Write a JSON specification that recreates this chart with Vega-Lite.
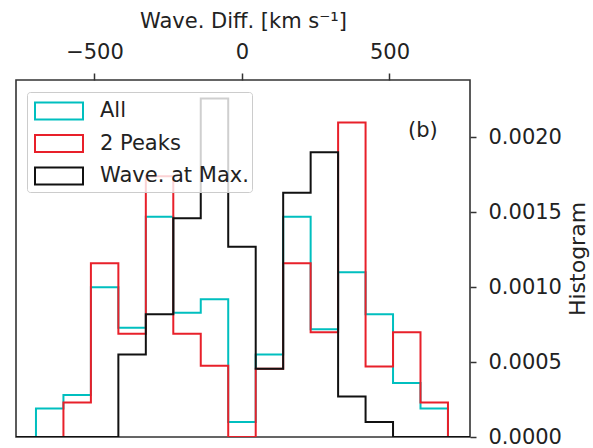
{
  "$schema": "https://vega.github.io/schema/vega-lite/v6.json",
  "width": 454,
  "height": 357,
  "autosize": {"type": "none"},
  "padding": {"left": 16, "top": 80, "right": 123, "bottom": 11},
  "config": {
    "view": {"stroke": "#333333", "strokeWidth": 1.6},
    "font": "DejaVu Sans"
  },
  "datasets": {
    "hist": [
      {"series": "All", "x0": -791.4, "x1": -698.3, "density": 0},
      {"series": "All", "x0": -698.3, "x1": -605.2, "density": 0.00019},
      {"series": "All", "x0": -605.2, "x1": -512.1, "density": 0.00028},
      {"series": "All", "x0": -512.1, "x1": -419.0, "density": 0.00100},
      {"series": "All", "x0": -419.0, "x1": -325.9, "density": 0.00073},
      {"series": "All", "x0": -325.9, "x1": -232.8, "density": 0.00147},
      {"series": "All", "x0": -232.8, "x1": -139.7, "density": 0.00083},
      {"series": "All", "x0": -139.7, "x1": -46.6, "density": 0.00092},
      {"series": "All", "x0": -46.6, "x1": 46.6, "density": 0.00010},
      {"series": "All", "x0": 46.6, "x1": 139.7, "density": 0.00055},
      {"series": "All", "x0": 139.7, "x1": 232.8, "density": 0.00147},
      {"series": "All", "x0": 232.8, "x1": 325.9, "density": 0.00072},
      {"series": "All", "x0": 325.9, "x1": 419.0, "density": 0.00110},
      {"series": "All", "x0": 419.0, "x1": 512.1, "density": 0.00082},
      {"series": "All", "x0": 512.1, "x1": 605.2, "density": 0.00036},
      {"series": "All", "x0": 605.2, "x1": 698.3, "density": 0.00019},
      {"series": "All", "x0": 698.3, "x1": 791.4, "density": 0},
      {"series": "2 Peaks", "x0": -791.4, "x1": -698.3, "density": 0},
      {"series": "2 Peaks", "x0": -698.3, "x1": -605.2, "density": 0},
      {"series": "2 Peaks", "x0": -605.2, "x1": -512.1, "density": 0.00023},
      {"series": "2 Peaks", "x0": -512.1, "x1": -419.0, "density": 0.00116},
      {"series": "2 Peaks", "x0": -419.0, "x1": -325.9, "density": 0.00069},
      {"series": "2 Peaks", "x0": -325.9, "x1": -232.8, "density": 0.00174},
      {"series": "2 Peaks", "x0": -232.8, "x1": -139.7, "density": 0.00069},
      {"series": "2 Peaks", "x0": -139.7, "x1": -46.6, "density": 0.000475},
      {"series": "2 Peaks", "x0": -46.6, "x1": 46.6, "density": 0},
      {"series": "2 Peaks", "x0": 46.6, "x1": 139.7, "density": 0.000455},
      {"series": "2 Peaks", "x0": 139.7, "x1": 232.8, "density": 0.00116},
      {"series": "2 Peaks", "x0": 232.8, "x1": 325.9, "density": 0.00070},
      {"series": "2 Peaks", "x0": 325.9, "x1": 419.0, "density": 0.00210},
      {"series": "2 Peaks", "x0": 419.0, "x1": 512.1, "density": 0.00047},
      {"series": "2 Peaks", "x0": 512.1, "x1": 605.2, "density": 0.00070},
      {"series": "2 Peaks", "x0": 605.2, "x1": 698.3, "density": 0.00023},
      {"series": "2 Peaks", "x0": 698.3, "x1": 791.4, "density": 0},
      {"series": "Wave. at Max.", "x0": -791.4, "x1": -698.3, "density": 0},
      {"series": "Wave. at Max.", "x0": -698.3, "x1": -605.2, "density": 0},
      {"series": "Wave. at Max.", "x0": -605.2, "x1": -512.1, "density": 0},
      {"series": "Wave. at Max.", "x0": -512.1, "x1": -419.0, "density": 0},
      {"series": "Wave. at Max.", "x0": -419.0, "x1": -325.9, "density": 0.00055},
      {"series": "Wave. at Max.", "x0": -325.9, "x1": -232.8, "density": 0.00082},
      {"series": "Wave. at Max.", "x0": -232.8, "x1": -139.7, "density": 0.00146},
      {"series": "Wave. at Max.", "x0": -139.7, "x1": -46.6, "density": 0.00226},
      {"series": "Wave. at Max.", "x0": -46.6, "x1": 46.6, "density": 0.00127},
      {"series": "Wave. at Max.", "x0": 46.6, "x1": 139.7, "density": 0.000455},
      {"series": "Wave. at Max.", "x0": 139.7, "x1": 232.8, "density": 0.00163},
      {"series": "Wave. at Max.", "x0": 232.8, "x1": 325.9, "density": 0.00190},
      {"series": "Wave. at Max.", "x0": 325.9, "x1": 419.0, "density": 0.00027},
      {"series": "Wave. at Max.", "x0": 419.0, "x1": 512.1, "density": 0.00010},
      {"series": "Wave. at Max.", "x0": 512.1, "x1": 605.2, "density": 0},
      {"series": "Wave. at Max.", "x0": 605.2, "x1": 698.3, "density": 0},
      {"series": "Wave. at Max.", "x0": 698.3, "x1": 791.4, "density": 0}
    ],
    "ann": [{"x": 613, "y": 0.00204, "label": "(b)"}]
  },
  "layer": [
    {
      "data": {"name": "hist"},
      "transform": [{"fold": ["x0", "x1"], "as": ["edge", "x"]}],
      "mark": {"type": "line", "strokeWidth": 2, "clip": true},
      "encoding": {
        "x": {
          "field": "x",
          "type": "quantitative",
          "scale": {"domain": [-766, 773], "nice": false, "zero": false},
          "axis": {
            "orient": "top",
            "values": [-500, 0, 500],
            "title": "Wave. Diff. [km s⁻¹]",
            "titleFontSize": 21,
            "titleFontWeight": "normal",
            "titleColor": "#222222",
            "titlePadding": 10,
            "labelFontSize": 21,
            "labelColor": "#222222",
            "labelPadding": 11,
            "labelFlush": false,
            "tickSize": 7,
            "tickWidth": 1.5,
            "tickColor": "#333333",
            "domain": false,
            "grid": false
          }
        },
        "y": {
          "field": "density",
          "type": "quantitative",
          "scale": {"domain": [0, 0.002383], "nice": false},
          "axis": {
            "orient": "right",
            "values": [0, 0.0005, 0.001, 0.0015, 0.002],
            "format": ".4f",
            "title": "Histogram",
            "titleAngle": 270,
            "titleBaseline": "top",
            "titleFontSize": 22,
            "titleFontWeight": "normal",
            "titleColor": "#222222",
            "titlePadding": 6,
            "labelFontSize": 21,
            "labelColor": "#222222",
            "labelPadding": 12,
            "labelFlush": false,
            "tickSize": 6,
            "tickWidth": 1.5,
            "tickColor": "#333333",
            "domain": false,
            "grid": false
          }
        },
        "color": {
          "field": "series",
          "type": "nominal",
          "scale": {
            "domain": ["All", "2 Peaks", "Wave. at Max."],
            "range": ["#00bfbf", "#e8202a", "#111111"]
          },
          "legend": {
            "orient": "none",
            "legendX": 11,
            "legendY": 12,
            "title": null,
            "symbolType": "M-1.6,-0.567H1.6V0.567H-1.6Z",
            "symbolSize": 900,
            "symbolFillColor": "transparent",
            "symbolStrokeWidth": 2,
            "symbolOffset": 13,
            "labelOffset": 25,
            "padding": 3,
            "rowPadding": 3.5,
            "labelFontSize": 21,
            "labelColor": "#222222",
            "labelLimit": 300,
            "fillColor": "rgba(255,255,255,0.8)",
            "strokeColor": "#cccccc",
            "cornerRadius": 3
          }
        },
        "order": [
          {"field": "x", "type": "quantitative"},
          {"field": "edge", "type": "nominal", "sort": "descending"}
        ]
      }
    },
    {
      "data": {"name": "ann"},
      "mark": {"type": "text", "fontSize": 21, "color": "#222222", "align": "center", "baseline": "middle"},
      "encoding": {
        "x": {"field": "x", "type": "quantitative"},
        "y": {"field": "y", "type": "quantitative"},
        "text": {"field": "label"}
      }
    }
  ]
}
